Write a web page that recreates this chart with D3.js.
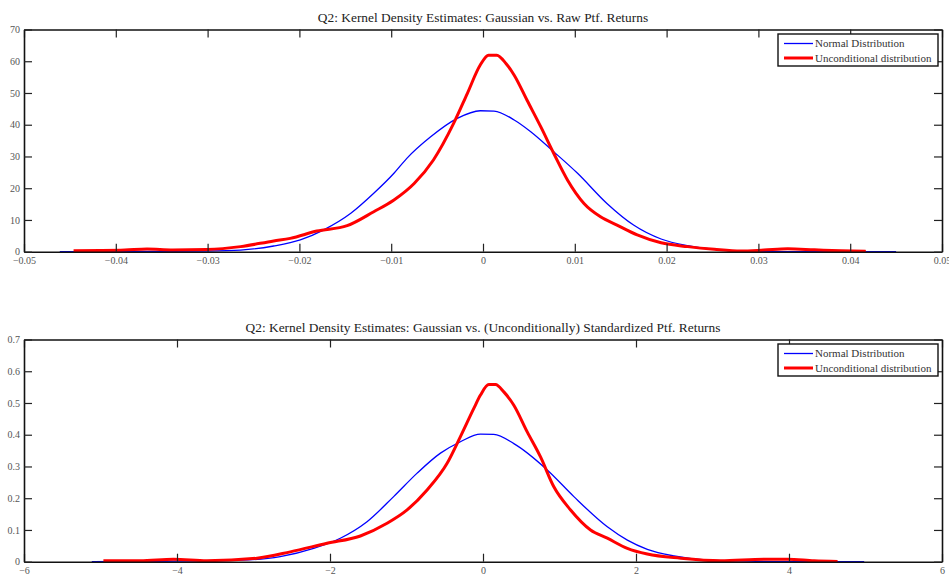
<!DOCTYPE html>
<html>
<head>
<meta charset="utf-8">
<script src="https://cdn.jsdelivr.net/npm/d3@7"></script>
<style>
html,body{margin:0;padding:0;background:#fff;}
svg{display:block;}
text{font-family:"Liberation Serif","DejaVu Serif",serif;}
</style>
</head>
<body>
<svg id="chart" width="949" height="575"></svg>
<script>
// ---------- DATA ----------
const legendLabels = ["Normal Distribution", "Unconditional distribution"];

// Panel 1: raw portfolio returns
const title1 = "Q2: Kernel Density Estimates: Gaussian vs. Raw Ptf. Returns";
const xTicks1 = [-0.05,-0.04,-0.03,-0.02,-0.01,0,0.01,0.02,0.03,0.04,0.05];
const yTicks1 = [0,10,20,30,40,50,60,70];
const normalX1 = [-0.0461,-0.040,-0.035,-0.0301,-0.0264,-0.0228,-0.0199,-0.0174,-0.0144,-0.0119,-0.0097,-0.0083,-0.0057,-0.0028,-0.0003,0.0012,0.0034,0.0052,0.0077,0.0103,0.0135,0.0164,0.0194,0.0223,0.0252,0.0281,0.033,0.040,0.045];
const normalY1 = [0,0.05,0.1,0.2,0.5,1.8,3.7,6.8,12.1,18.4,24.7,29.4,36.2,42.0,44.4,44.3,41.5,37.8,31.5,24.7,15.2,8.4,4.0,1.9,0.75,0.2,0.05,0,0];
const uncondX1 = [-0.0446,-0.0417,-0.039,-0.0366,-0.0338,-0.0301,-0.0264,-0.0228,-0.0210,-0.0181,-0.0148,-0.0119,-0.0097,-0.0075,-0.0054,-0.0032,-0.0017,-0.0003,0.0006,0.0015,0.0025,0.0034,0.0048,0.0063,0.0077,0.0092,0.0110,0.0128,0.0146,0.0168,0.0194,0.0223,0.0252,0.0281,0.0306,0.0332,0.0361,0.0390,0.0417];
const uncondY1 = [0.3,0.35,0.5,0.85,0.55,0.7,1.6,3.4,4.2,6.5,8.2,12.6,16.3,21.5,28.9,40.4,49.9,58.8,61.9,61.9,59.3,55.6,47.7,39.3,31.0,22.6,15.2,11.0,8.4,5.3,2.8,1.6,0.75,0.2,0.5,0.9,0.6,0.3,0.1];

// Panel 2: standardized portfolio returns
const title2 = "Q2: Kernel Density Estimates: Gaussian vs. (Unconditionally) Standardized Ptf. Returns";
const xTicks2 = [-6,-4,-2,0,2,4,6];
const yTicks2 = [0,0.1,0.2,0.3,0.4,0.5,0.6,0.7];
const normalX2 = [-5.114,-4.482,-3.174,-2.650,-2.214,-1.865,-1.516,-1.168,-0.861,-0.556,-0.295,-0.033,0.141,0.403,0.840,1.188,1.625,1.887,2.148,2.497,2.933,3.457,4.2,4.983];
const normalY2 = [0,0.001,0.005,0.016,0.042,0.074,0.126,0.205,0.279,0.342,0.378,0.402,0.401,0.372,0.289,0.205,0.110,0.068,0.039,0.018,0.005,0.002,0,0];
const uncondX2 = [-4.962,-4.482,-4.046,-3.609,-2.955,-2.519,-2.039,-1.603,-1.254,-0.992,-0.731,-0.469,-0.295,-0.120,-0.033,0.076,0.163,0.272,0.403,0.578,0.752,0.926,1.145,1.406,1.625,1.887,2.148,2.584,3.107,3.674,3.980,4.328,4.635];
const uncondY2 = [0.003,0.003,0.008,0.003,0.011,0.031,0.058,0.081,0.121,0.163,0.226,0.310,0.394,0.483,0.525,0.558,0.558,0.535,0.493,0.409,0.330,0.236,0.163,0.100,0.074,0.042,0.024,0.011,0.003,0.008,0.008,0.003,0.001];

// ---------- DRAW ----------
const svg = d3.select("#chart");

function panel(cfg){
  const g = svg.append("g");
  const x = d3.scaleLinear().domain(cfg.xDomain).range([cfg.left, cfg.right]);
  const y = d3.scaleLinear().domain(cfg.yDomain).range([cfg.bottom, cfg.top]);
  const tickLen = 8;

  // title
  g.append("text")
    .attr("x", (cfg.left+cfg.right)/2).attr("y", cfg.top-8)
    .attr("text-anchor","middle").attr("font-size",13.4).attr("fill","#222")
    .text(cfg.title);

  // curves
  const line = d3.line().x(d=>x(d[0])).y(d=>y(d[1])).curve(d3.curveMonotoneX);
  g.append("path").datum(d3.zip(cfg.nx, cfg.ny))
    .attr("d", line).attr("fill","none").attr("stroke","#0000ff").attr("stroke-width",1.3);
  g.append("path").datum(d3.zip(cfg.ux, cfg.uy))
    .attr("d", line).attr("fill","none").attr("stroke","#ff0000").attr("stroke-width",3)
    .attr("stroke-linejoin","round");

  // axes (box)
  const axB = d3.axisBottom(x).tickValues(cfg.xTicks).tickSizeInner(-tickLen).tickSizeOuter(0).tickPadding(5).tickFormat(cfg.xFmt);
  const axT = d3.axisTop(x).tickValues(cfg.xTicks).tickSizeInner(-tickLen).tickSizeOuter(0).tickFormat("");
  const axL = d3.axisLeft(y).tickValues(cfg.yTicks).tickSizeInner(-tickLen).tickSizeOuter(0).tickPadding(4).tickFormat(cfg.yFmt);
  const axR = d3.axisRight(y).tickValues(cfg.yTicks).tickSizeInner(-tickLen).tickSizeOuter(0).tickFormat("");
  const style = s => {
    s.selectAll("path.domain").attr("stroke","#111").attr("stroke-width",1.6);
    s.selectAll(".tick line").attr("stroke","#222").attr("stroke-width",1.2);
    s.selectAll(".tick text").attr("fill","#555").attr("font-size",10)
      .attr("font-family","Liberation Serif, DejaVu Serif, serif");
  };
  g.append("g").attr("transform",`translate(0,${cfg.bottom})`).call(axB).call(style);
  g.append("g").attr("transform",`translate(0,${cfg.top})`).call(axT).call(style);
  g.append("g").attr("transform",`translate(${cfg.left},0)`).call(axL).call(style);
  g.append("g").attr("transform",`translate(${cfg.right},0)`).call(axR).call(style);

  // legend
  const lx = cfg.right-164, ly = cfg.top+4.5, lw = 160, lh = 32;
  const lg = g.append("g");
  lg.append("rect").attr("x",lx).attr("y",ly).attr("width",lw).attr("height",lh)
    .attr("fill","#fff").attr("stroke","#111").attr("stroke-width",1.4);
  const colors = ["#0000ff","#ff0000"], widths = [1.3,3];
  legendLabels.forEach((lab,i)=>{
    const yy = ly + 9.5 + i*14.5;
    lg.append("line").attr("x1",lx+6).attr("x2",lx+35).attr("y1",yy).attr("y2",yy)
      .attr("stroke",colors[i]).attr("stroke-width",widths[i]);
    lg.append("text").attr("x",lx+37).attr("y",yy+3.8).attr("font-size",11).attr("fill","#333").text(lab);
  });
}

panel({
  title: title1, left: 24, right: 942, top: 29.5, bottom: 251.7,
  xDomain: [-0.05,0.05], yDomain: [0,70], xTicks: xTicks1, yTicks: yTicks1,
  xFmt: d=> d===0 ? "0" : d3.format(".2f")(d), yFmt: d3.format("d"),
  nx: normalX1, ny: normalY1, ux: uncondX1, uy: uncondY1
});
panel({
  title: title2, left: 24, right: 942, top: 339.5, bottom: 561.7,
  xDomain: [-6,6], yDomain: [0,0.7], xTicks: xTicks2, yTicks: yTicks2,
  xFmt: d3.format("d"), yFmt: d=> d===0 ? "0" : d3.format(".1f")(d),
  nx: normalX2, ny: normalY2, ux: uncondX2, uy: uncondY2
});
</script>
</body>
</html>
